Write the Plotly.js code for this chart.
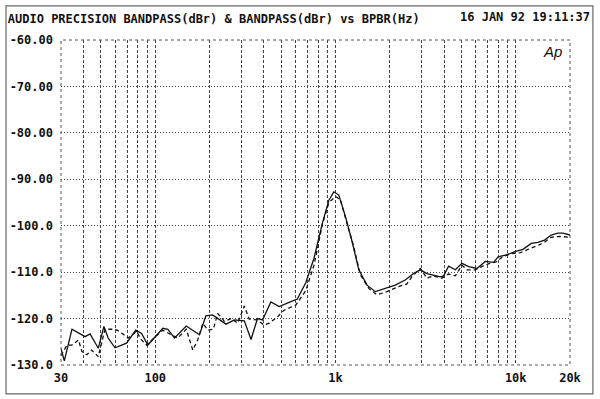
<!DOCTYPE html>
<html>
<head>
<meta charset="utf-8">
<script src="https://cdn.plot.ly/plotly-3.0.1.min.js"></script>
<style>html,body{margin:0;padding:0;background:#fff}#chart{width:600px;height:399px}</style>
</head>
<body>
<div id="chart"></div>
<script>
// Solid curve (first BANDPASS trace)
const solidFreq = [30,31.3,34.5,40.8,43.5,48.3,51.9,54.8,59.8,69.3,78,84,91,100.4,110.2,117.5,128,148.6,176,191,208,247,275,312,340,369,394,438,487,553,614,684,760,845,919,979,1043,1137,1236,1347,1497,1663,1890,2145,2437,2710,2955,3215,3811,3980,4240,4623,5030,5480,6090,6780,7540,7990,8870,9880,10970,12180,13270,14460,15720,17130,18260,20000];
const solidDb = [-126.5,-129.1,-122.3,-123.9,-123.3,-126.4,-121.7,-124.2,-126.3,-125.3,-122.5,-123.2,-125.7,-123.9,-122.1,-122.3,-124.2,-121.6,-123.5,-119.4,-119.2,-121.2,-120.3,-120.5,-124.5,-120,-120.3,-116.4,-117.4,-116.5,-115.8,-112.3,-107,-99.5,-94.5,-92.7,-93.4,-98.1,-103.4,-109.5,-112.8,-114.2,-113.5,-112.8,-111.7,-110.3,-109.5,-110.3,-111,-110.8,-108.7,-109.5,-108.1,-108.8,-109.2,-107.7,-107.9,-106.7,-106.3,-105.6,-105.1,-103.8,-103.6,-103.1,-102,-101.6,-101.6,-102];

// Dashed curve (second BANDPASS trace)
const dashFreq = [30,32.4,34.5,37.5,39.2,41.7,44.4,48.3,52.6,59.8,63.6,70.7,78.7,84,89.2,101.3,110.2,122.7,133.4,148.6,161.6,172,183.7,195.9,210,222,242,263.6,286.5,312,332,369,402,429,477,518,577,602,684,760,845,919,1000,1065,1137,1262,1375,1530,1697,1928,2238,2483,2650,2955,3215,3490,3890,4240,4623,5030,5365,5960,6560,7160,7790,8450,9450,10630,11700,12680,14140,15720,17500,20000];
const dashDb = [-128,-125.7,-125.7,-124.6,-127.1,-127.8,-126.8,-128.2,-122.3,-122.3,-122.8,-124.2,-122.8,-124.6,-125.7,-123.9,-122.5,-123.5,-124.2,-122.3,-126.8,-124.6,-121,-122.5,-122.3,-118.9,-120.6,-120,-121,-117.3,-120.1,-120.3,-121.4,-121,-119.6,-118.2,-117.4,-117.1,-114,-108.5,-99.8,-95,-93.7,-94.4,-98.4,-104.5,-110.6,-113.5,-114.9,-114.2,-113.1,-112.6,-111,-109.2,-111.3,-110.8,-111.3,-110.4,-110.8,-108.5,-109.5,-109.5,-108.7,-108.1,-107.8,-106.7,-106,-105.8,-105.1,-104.5,-103.8,-102.5,-102.3,-102.5];

// Axis ticks and labels
const xGridVals = [30,40,50,60,70,80,90,100,200,300,400,500,600,700,800,900,1000,2000,3000,4000,5000,6000,7000,8000,9000,10000,20000];
const xTickText = ['30','','','','','','','100','','','','','','','','','1k','','','','','','','','','10k','20k'];
const yTickVals = [-130,-120,-110,-100,-90,-80,-70,-60];
const yTickText = ['-130.0','-120.0','-110.0','-100.0','-90.00','-80.00','-70.00','-60.00'];

const titleText = 'AUDIO PRECISION BANDPASS(dBr) & BANDPASS(dBr) vs BPBR(Hz)';
const dateText = '16 JAN 92 19:11:37';

const mono = 'DejaVu Sans Mono, Liberation Mono, monospace';

const traces = [
  {x: solidFreq, y: solidDb, mode: 'lines', line: {color: '#111', width: 1.3}, hoverinfo: 'skip'},
  {x: dashFreq, y: dashDb, mode: 'lines', line: {color: '#111', width: 1.3, dash: '4px,3px'}, hoverinfo: 'skip'}
];

const layout = {
  width: 600, height: 399,
  margin: {l: 61, r: 30, t: 40, b: 34},
  paper_bgcolor: '#fff', plot_bgcolor: '#fff',
  showlegend: false,
  title: {text: titleText, x: 0.013, xanchor: 'left', xref: 'container', y: 0.952, yanchor: 'middle', yref: 'container',
          font: {family: mono, size: 12, color: '#111', weight: 'bold'}},
  xaxis: {
    type: 'log', range: [Math.log10(30), Math.log10(20000)],
    tickvals: xGridVals, ticktext: xTickText,
    showgrid: true, gridcolor: '#444', griddash: '3px,2px', gridwidth: 1,
    zeroline: false, showline: false, ticks: '',
    tickfont: {family: mono, size: 12, color: '#111', weight: 'bold'},
    ticklabelstandoff: 4
  },
  yaxis: {
    range: [-130, -60], tickvals: yTickVals, ticktext: yTickText,
    showgrid: true, gridcolor: '#444', griddash: '1px,2px', gridwidth: 1,
    zeroline: false, showline: false, ticks: '',
    tickfont: {family: mono, size: 12, color: '#111', weight: 'bold'},
    ticklabelstandoff: 7
  },
  annotations: [
    {text: dateText, xref: 'paper', yref: 'paper', x: 1.044, y: 1.072, xanchor: 'right', yanchor: 'middle', showarrow: false,
     font: {family: mono, size: 12, color: '#111', weight: 'bold'}},
    {text: '<i>Ap</i>', xref: 'paper', yref: 'paper', x: 0.966, y: 0.965, xanchor: 'center', yanchor: 'middle', showarrow: false,
     font: {family: 'Liberation Sans, Arial, sans-serif', size: 15, color: '#111'}}
  ],
  shapes: [
    {type: 'rect', xref: 'paper', yref: 'paper', x0: 0, x1: 1, y0: 0, y1: 1, line: {color: '#555', width: 1, dash: 'dot'}},
    {type: 'rect', xref: 'paper', yref: 'paper', x0: -0.108, x1: 1.045, y0: -0.089, y1: 1.105, line: {color: '#666', width: 1.2}}
  ]
};

Plotly.newPlot('chart', traces, layout, {staticPlot: true, displayModeBar: false});
</script>
</body>
</html>
